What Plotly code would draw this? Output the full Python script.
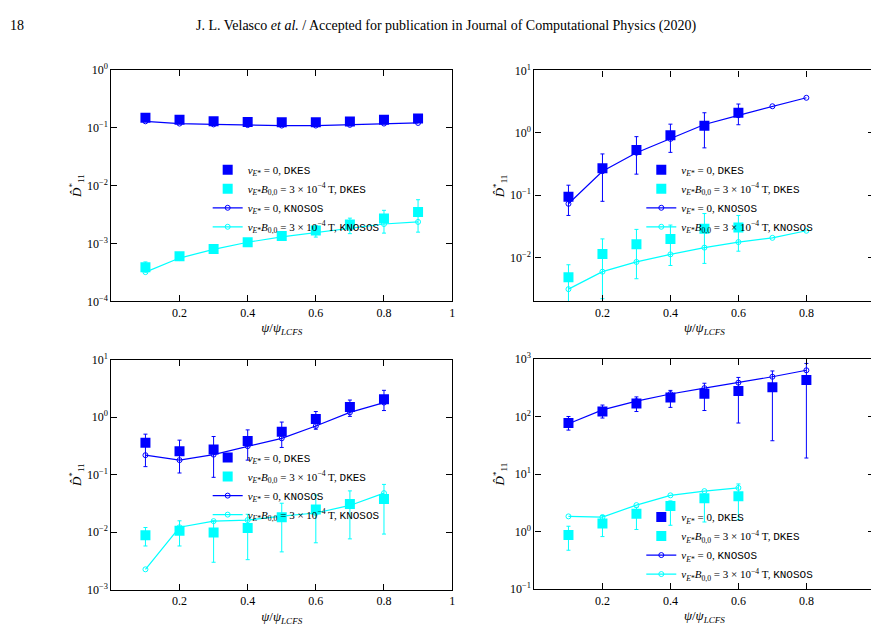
import plotly.graph_objects as go
import numpy as np

# radial positions
psi9 = [0.1, 0.2, 0.3, 0.4, 0.5, 0.6, 0.7, 0.8, 0.9]
psi8 = [0.1, 0.2, 0.3, 0.4, 0.5, 0.6, 0.7, 0.8]
psi6 = [0.1, 0.2, 0.3, 0.4, 0.5, 0.6]

# panel 1 (top left)
p1_dkes0 = [0.148, 0.138, 0.129, 0.126, 0.124, 0.124, 0.128, 0.138, 0.144]
p1_kn0 = [0.129, 0.118, 0.114, 0.111, 0.109, 0.109, 0.112, 0.118, 0.121]
p1_dkesE = [3.9e-4, 6.0e-4, 8.0e-4, 1.05e-3, 1.35e-3, 1.68e-3, 2.12e-3, 2.71e-3, 3.5e-3]
p1_dkesE_hi = [4.8e-4, 6.6e-4, 8.8e-4, 1.14e-3, 1.53e-3, 2.04e-3, 2.74e-3, 3.74e-3, 5.7e-3]
p1_dkesE_lo = [3.2e-4, 5.4e-4, 7.2e-4, 9.6e-4, 1.14e-3, 1.29e-3, 1.48e-3, 1.51e-3, 1.57e-3]
p1_knE = [3.2e-4, 5.6e-4, 7.9e-4, 1.05e-3, 1.3e-3, 1.55e-3, 1.86e-3, 2.17e-3, 2.36e-3]

# panel 2 (top right)
p2_dkes0 = [0.095, 0.27, 0.53, 0.92, 1.30, 2.1]
p2_dkes0_hi = [0.145, 0.46, 0.87, 1.38, 2.1, 2.9]
p2_dkes0_lo = [0.0475, 0.08, 0.218, 0.487, 0.575, 1.35]
p2_kn0 = [0.073, 0.243, 0.48, 0.80, 1.36, 1.91, 2.67, 3.65]
p2_dkesE = [0.00487, 0.0114, 0.0164, 0.020, 0.029, 0.0305]
p2_dkesE_hi = [0.0077, 0.020, 0.0284, 0.0333, 0.051, 0.0475]
p2_dkesE_lo = [0.0015, 0.0022, 0.0046, 0.0075, 0.0081, 0.0127]
p2_knE = [0.00313, 0.00597, 0.00855, 0.0113, 0.0145, 0.0178, 0.0208, 0.027]

# panel 3 (bottom left)
p3_dkes0 = [0.36, 0.255, 0.275, 0.385, 0.555, 0.93, 1.50, 2.05]
p3_dkes0_hi = [0.506, 0.398, 0.46, 0.60, 0.82, 1.25, 1.98, 2.92]
p3_dkes0_lo = [0.138, 0.107, 0.090, 0.179, 0.297, 0.615, 1.03, 1.30]
p3_kn0 = [0.218, 0.179, 0.223, 0.313, 0.428, 0.70, 1.21, 1.79]
p3_dkesE = [0.00883, 0.0106, 0.00994, 0.0118, 0.0182, 0.0249, 0.0311, 0.0378]
p3_dkesE_hi = [0.0121, 0.0158, 0.0158, 0.0205, 0.0319, 0.0442, 0.0523, 0.0678]
p3_dkesE_lo = [0.00577, 0.00577, 0.00301, 0.00334, 0.00456, 0.00656, 0.00767, 0.0093]
p3_knE = [0.00227, 0.0122, 0.0156, 0.0163, 0.019, 0.0216, 0.0292, 0.0478]

# panel 4 (bottom right)
p4_dkes0 = [77.4, 122, 169, 213, 249, 276, 323, 430]
p4_dkes0_hi = [100, 158, 219, 284, 378, 477, 618, 834]
p4_dkes0_lo = [58, 94, 122, 144, 127, 77, 37.9, 19]
p4_kn0 = [75, 130, 185, 246, 311, 387, 490, 635]
p4_dkesE = [0.875, 1.38, 2.04, 2.78, 3.80, 4.11]
p4_dkesE_hi = [1.24, 1.91, 2.64, 3.42, 4.32, 6.73]
p4_dkesE_lo = [0.475, 0.82, 1.09, 1.29, 1.47, 1.61]
p4_knE = [1.84, 1.79, 2.89, 4.27, 5.06, 5.75]

BLUE = "#0000ff"
CYAN = "#00ffff"
SERIF = "Liberation Serif"
MONO = "Liberation Mono"

lab_v0 = "<i>v</i><sub><i>E</i>*</sub> = 0, "
lab_vE = "<i>v</i><sub><i>E</i>*</sub><i>B</i><sub>0,0</sub> = 3 × 10<sup>−4</sup> T, "
def code(s):
    return f"<span style=\"font-family:{MONO}\">{s}</span>"

panels = [
    (psi9, p1_dkes0, None, None, psi9, p1_kn0, psi9, p1_dkesE, p1_dkesE_hi, p1_dkesE_lo, psi9, p1_knE),
    (psi6, p2_dkes0, p2_dkes0_hi, p2_dkes0_lo, psi8, p2_kn0, psi6, p2_dkesE, p2_dkesE_hi, p2_dkesE_lo, psi8, p2_knE),
    (psi8, p3_dkes0, p3_dkes0_hi, p3_dkes0_lo, psi8, p3_kn0, psi8, p3_dkesE, p3_dkesE_hi, p3_dkesE_lo, psi8, p3_knE),
    (psi8, p4_dkes0, p4_dkes0_hi, p4_dkes0_lo, psi8, p4_kn0, psi6, p4_dkesE, p4_dkesE_hi, p4_dkesE_lo, psi6, p4_knE),
]

def err(v, hi, lo):
    if hi is None:
        return None
    v = np.array(v)
    return dict(type="data", array=np.array(hi) - v, arrayminus=v - np.array(lo),
                width=2, thickness=1)

fig = go.Figure()
for i, (xa, ya, ha, la, xb, yb, xc, yc, hc, lc, xd, yd) in enumerate(panels):
    ax = "" if i == 0 else str(i + 1)
    lg = "legend" if i == 0 else f"legend{i + 1}"
    common = dict(xaxis="x" + ax, yaxis="y" + ax, legend=lg)
    eb = err(ya, ha, la)
    if eb:
        eb["color"] = BLUE
    fig.add_trace(go.Scatter(x=xa, y=ya, mode="markers", name=lab_v0 + code("DKES"),
                             marker=dict(symbol="square", size=10, color=BLUE),
                             error_y=eb, **common))
    ec = err(yc, hc, lc)
    ec["color"] = CYAN
    fig.add_trace(go.Scatter(x=xc, y=yc, mode="markers", name=lab_vE + code("DKES"),
                             marker=dict(symbol="square", size=10, color=CYAN),
                             error_y=ec, **common))
    fig.add_trace(go.Scatter(x=xb, y=yb, mode="lines+markers", name=lab_v0 + code("KNOSOS"),
                             line=dict(color=BLUE, width=1.2),
                             marker=dict(symbol="circle-open", size=5, color=BLUE), **common))
    fig.add_trace(go.Scatter(x=xd, y=yd, mode="lines+markers", name=lab_vE + code("KNOSOS"),
                             line=dict(color=CYAN, width=1.2),
                             marker=dict(symbol="circle-open", size=5, color=CYAN), **common))

xdom = [[0.118, 0.507], [0.601, 0.989], [0.118, 0.507], [0.601, 0.989]]
ydom = [[0.539, 0.913], [0.539, 0.912], [0.073, 0.445], [0.074, 0.446]]
yexp = [(-4, 0), (-2.70, 1), (-3, 1), (-1, 3)]
leg_pos = [(0.43, 0.775, "top"), (0.925, 0.775, "top"), (0.43, 0.31, "top"), (0.925, 0.075, "bottom")]

axis_style = dict(showline=True, linecolor="black", linewidth=1.2, mirror="ticks",
                  ticks="inside", ticklen=6, tickcolor="black", showgrid=False, zeroline=False,
                  tickfont=dict(family=SERIF, size=12, color="black"))
layout = {}
for i in range(4):
    k = "" if i == 0 else str(i + 1)
    lo, hi = yexp[i]
    exps = list(range(int(np.ceil(lo)), hi + 1))
    layout["xaxis" + k] = dict(domain=xdom[i], range=[0, 1], anchor="y" + k,
                               tickvals=[0.2, 0.4, 0.6, 0.8, 1.0], ticktext=["0.2", "0.4", "0.6", "0.8", "1"],
                               title=dict(text="<i>ψ</i>/<i>ψ</i><sub><i>LCFS</i></sub>", standoff=4,
                                          font=dict(family=SERIF, size=13)),
                               **axis_style)
    layout["yaxis" + k] = dict(domain=ydom[i], type="log", range=[lo, hi], anchor="x" + k,
                               tickvals=[10.0 ** e for e in exps],
                               ticktext=[f"10<sup>{e}</sup>".replace("-", "−") for e in exps],
                               title=dict(text="<i>D̂</i><sup>*</sup><sub>11</sub>", standoff=2,
                                          font=dict(family=SERIF, size=13)),
                               **axis_style)
    lname = "legend" if i == 0 else f"legend{i + 1}"
    layout[lname] = dict(x=leg_pos[i][0], y=leg_pos[i][1], xanchor="right", yanchor=leg_pos[i][2],
                         bgcolor="rgba(0,0,0,0)", tracegroupgap=0, itemwidth=30,
                         font=dict(family=SERIF, size=11, color="black"))

fig.update_layout(**layout)
fig.update_layout(
    width=879, height=634, paper_bgcolor="white", plot_bgcolor="white",
    margin=dict(l=0, r=0, t=0, b=0), showlegend=True,
    font=dict(family=SERIF, color="black"),
    annotations=[
        dict(text="18", x=0.0, y=1.0, xref="paper", yref="paper", xanchor="left", yanchor="top",
             showarrow=False, font=dict(family=SERIF, size=14)),
        dict(text="J. L. Velasco <i>et al.</i> / Accepted for publication in Journal of Computational Physics (2020)",
             x=0.5, y=1.0, xref="paper", yref="paper", xanchor="center", yanchor="top",
             showarrow=False, font=dict(family=SERIF, size=14)),
    ],
)

fig.write_html("out.html")
